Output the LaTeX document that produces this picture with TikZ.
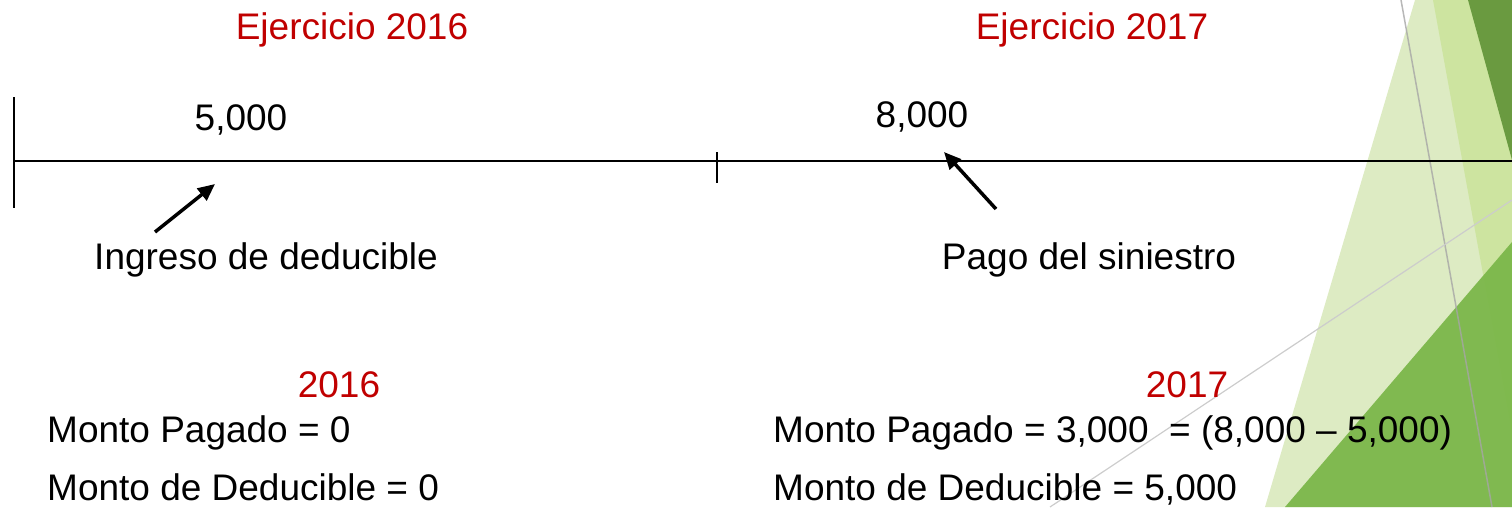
\documentclass[tikz,border=0pt]{standalone}
\usepackage{fontspec}
\setmainfont{Liberation Sans}
\usepackage{tikz}
\usetikzlibrary{positioning,arrows.meta}
\definecolor{ejred}{RGB}{192,0,0}
\definecolor{facetlight}{RGB}{221,235,195}
\definecolor{facetmid}{RGB}{205,228,160}
\definecolor{facetdark}{RGB}{106,154,64}
\definecolor{facetgreen}{RGB}{122,182,72}

\tikzset{
  lbl/.style={inner sep=0pt,anchor=base,font=\fontsize{37}{44}\selectfont},
  lblleft/.style={lbl,anchor=base west},
  yearlbl/.style={lbl,text=ejred},
  pointer/.style={line width=3.5pt,-{Triangle[length=17pt,width=15pt]}},
}

\begin{document}
\begin{tikzpicture}[x={(1pt,0)},y={(0,-1pt)}]
\useasboundingbox (0,0) rectangle (1512,507);
% Facet decoration on the right
\fill[facetlight] (1415,0) -- (1512,0) -- (1512,507) -- (1265,507) -- cycle;
\fill[facetmid] (1433,0) -- (1512,0) -- (1512,433) -- cycle;
\fill[facetdark] (1468,0) -- (1512,0) -- (1512,160) -- cycle;
\fill[facetgreen,opacity=0.93] (1285,507) -- (1512,242) -- (1512,507) -- cycle;
\draw[gray!70,line width=1.5pt,opacity=0.8] (1401,0) -- (1492,507);
\draw[gray!40,line width=1.2pt] (1050,507) -- (1512,200);
% Timeline
\coordinate (tstart) at (14,161);
\coordinate (tend) at (1512,161);
\coordinate (tmid) at (717,161);
\draw[line width=1.5pt] (tstart) -- (tend);
\draw[line width=1.5pt] (14,97) -- (14,208);
\draw[line width=1.5pt] (717,152) -- (717,183);
% Year headings
\node[yearlbl] (ej2016) at (352,39) {Ejercicio 2016};
\node[yearlbl] (ej2017) at (1092,39) {Ejercicio 2017};
% Amounts on the line
\node[lbl] (amt5000) at (241,130) {5,000};
\node[lbl] (amt8000) at (922,127) {8,000};
% Events
\node[lbl] (ingreso) at (266,269) {Ingreso de deducible};
\node[lbl] (pago) at (1089,269) {Pago del siniestro};
\coordinate (ingtail) at (155,232);
\coordinate (ingtip) at (215,184);
\coordinate (pagtail) at (996,209);
\coordinate (pagtip) at (944,152);
\draw[pointer] (ingtail) -- (ingtip);
\draw[pointer] (pagtail) -- (pagtip);
% Summary per year
\node[yearlbl] (y2016) at (339,397) {2016};
\node[yearlbl] (y2017) at (1187,397) {2017};
\node[lblleft] (pag16) at (47,442) {Monto Pagado = 0};
\node[lblleft] (ded16) at (47,500) {Monto de Deducible = 0};
\node[lblleft] (pag17) at (773,442) {Monto Pagado = 3,000\ \ = (8,000 – 5,000)};
\node[lblleft] (ded17) at (773,500) {Monto de Deducible = 5,000};
\end{tikzpicture}
\end{document}
